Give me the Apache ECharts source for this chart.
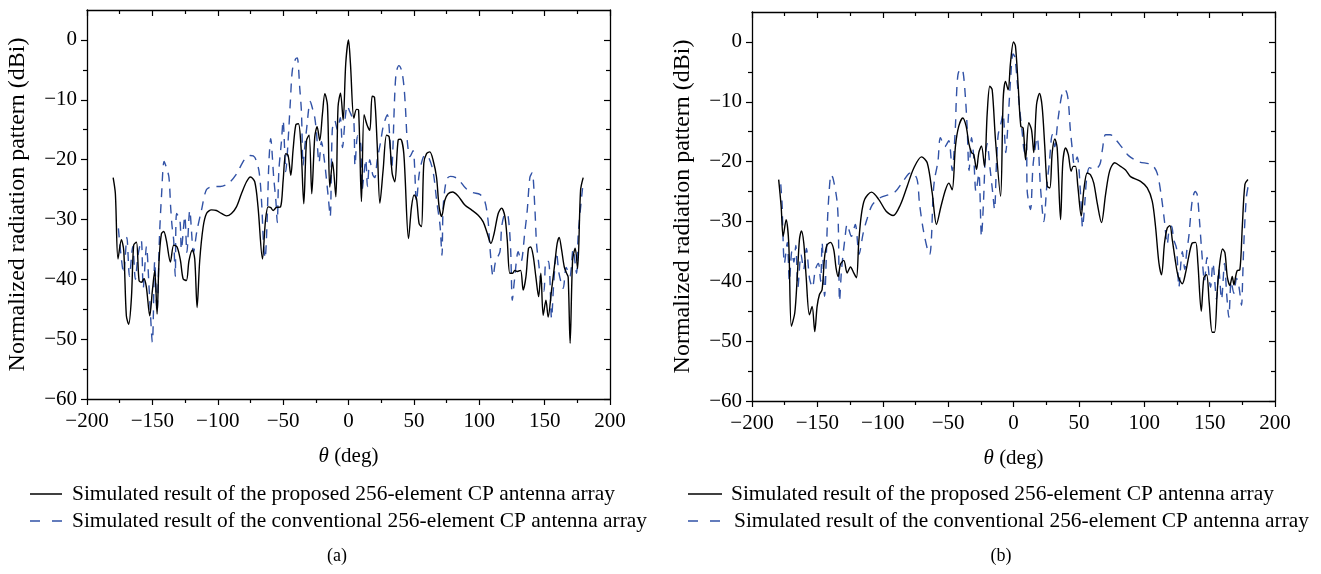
<!DOCTYPE html>
<html><head><meta charset="utf-8">
<script src="https://cdn.jsdelivr.net/npm/echarts@6/dist/echarts.min.js"></script>
<style>html,body{margin:0;padding:0;background:#fff}#c{width:1321px;height:574px}</style>
</head><body><div id="c"></div>
<script>
const seriesNames = ['Simulated result of the proposed 256-element CP antenna array','Simulated result of the conventional 256-element CP antenna array'];
const panelLabels = ['(a)','(b)'];
const xAxisName = '{i|\u03b8} (deg)';
const yAxisName = 'Normalized radiation pattern (dBi)';
const yMajorTicks = [-60,-50,-40,-30,-20,-10,0];
const yMinorTicks = [-55,-45,-35,-25,-15,-5];

const proposedA = [[-180,-23.0],[-178.3,-25.7],[-176.3,-36.6],[-173.7,-33.4],[-171.9,-35.2],[-169.9,-46.1],[-168.1,-47.5],[-166,-43],[-164.3,-34.3],[-162.2,-33.8],[-160.2,-40.2],[-158.4,-40.5],[-156.4,-39.9],[-154.6,-41.3],[-152,-46.1],[-150,-41.9],[-148.2,-38.5],[-146.4,-45.8],[-144.9,-36.9],[-143.1,-32.4],[-141.3,-32.0],[-139.3,-33.5],[-136.2,-37.1],[-133.7,-34.3],[-131.1,-34.6],[-128.5,-36.9],[-126.5,-39.9],[-124,-40.2],[-122,-36.9],[-119.4,-35.1],[-117.6,-36.6],[-115.8,-44.7],[-113.8,-36.9],[-111.2,-31.3],[-108.6,-29.0],[-104.8,-28.4],[-101,-28.5],[-97.2,-29.0],[-93.3,-29.4],[-89.5,-29.0],[-85.7,-27.9],[-81.9,-25.7],[-78,-23.7],[-75,-22.9],[-71.7,-23.7],[-69.2,-27.9],[-65.8,-36.6],[-63.5,-30.2],[-61.5,-27.9],[-59.5,-28.0],[-57.7,-28.5],[-55.1,-28.0],[-52,-27.9],[-50,-23.5],[-48,-19.0],[-46.2,-19.3],[-44.1,-22.6],[-42.4,-18.4],[-40.3,-14.2],[-38.3,-14.0],[-36.3,-17.9],[-34.2,-27.4],[-32.1,-16.8],[-30.1,-15.9],[-28.1,-25.7],[-25.8,-16.2],[-24,-14.5],[-22,-16.8],[-19.9,-12.3],[-18.1,-9.0],[-16.1,-10.9],[-14.3,-24.6],[-12.2,-20.4],[-9.7,-26.2],[-8,-11.2],[-6.1,-8.9],[-4.1,-13.4],[-2.1,-3.9],[0,0],[1.5,-4],[4.1,-13.1],[6.1,-11.6],[7.7,-11.7],[9.9,-27.0],[11.9,-12.5],[14.2,-14.2],[16.3,-15.1],[18.1,-9.4],[19.9,-9.6],[21.9,-17.3],[24,-27.3],[26.5,-21.7],[29.1,-15.9],[31.1,-16.2],[33.4,-22.3],[35.4,-23.7],[38,-16.7],[39.8,-16.6],[42.3,-19.0],[45.9,-33.2],[48.2,-27.9],[50.2,-25.9],[52,-26.5],[54,-30.7],[55.8,-31.2],[57.6,-20.6],[59.7,-19.0],[62.2,-18.7],[64.7,-20.1],[67.3,-22.9],[69.3,-27.9],[71.2,-29.5],[73.7,-26.8],[76.2,-25.7],[79.6,-25.4],[83.9,-26.1],[89,-27.6],[94.1,-28.4],[99.2,-29.3],[103,-30.4],[106.1,-32.3],[108.9,-34.0],[111.4,-32.3],[114.5,-29.0],[117.1,-28.1],[119.6,-29.5],[121.4,-33.4],[123.4,-39.0],[125.5,-39.0],[127.2,-38.5],[129,-38.7],[131.6,-38.5],[133.6,-41.8],[135.7,-39.6],[137.7,-34.8],[139.3,-34.6],[141.2,-36.0],[143.3,-39.6],[145.4,-42.9],[147.1,-39.0],[148.9,-46.0],[151,-43.5],[152.7,-46.3],[155.3,-41.8],[157.8,-37.3],[159.6,-34.0],[161.1,-33.0],[163,-35.1],[165,-37.9],[166.8,-39.0],[168,-39.6],[169.5,-50.7],[171.4,-36.8],[173.4,-34.8],[175.2,-38.2],[177.5,-25.1],[179.5,-23.0]];

const conventionalA = [[-176,-31.5],[-174,-36],[-172,-39],[-169.5,-33],[-167.5,-39.5],[-165,-34.5],[-163,-40],[-161,-36],[-158.5,-33.5],[-157,-41.5],[-154.5,-34.5],[-152.5,-41.5],[-150,-50.5],[-148.2,-37],[-146.5,-45.5],[-144.5,-32.5],[-143,-26],[-141,-20.3],[-139,-21.5],[-137.3,-23],[-136,-28],[-135,-31],[-133.7,-33.5],[-132.5,-39.5],[-131.5,-29],[-129,-30],[-127.8,-35],[-125.2,-29.5],[-123.6,-35.5],[-121.4,-28.5],[-118.5,-35.5],[-116,-32],[-112.5,-28.5],[-108.6,-25],[-103.6,-24.5],[-98,-24.5],[-92,-24],[-86,-22.5],[-79.3,-19.9],[-75,-19.3],[-71.7,-19.6],[-68.4,-22],[-66.5,-27],[-65,-34],[-63.8,-36.5],[-62.2,-30],[-61,-21],[-59.5,-16.5],[-57.2,-23],[-55.5,-27],[-54.5,-30.5],[-53.3,-22],[-51.3,-17],[-50,-13.5],[-48.8,-18.5],[-48,-22],[-46.5,-18],[-44.4,-10],[-42.9,-5],[-40.5,-3.2],[-39.2,-3],[-37.3,-8],[-36,-12],[-34.7,-21],[-33.5,-18],[-32.1,-15],[-29.2,-10.3],[-27.5,-11.5],[-25.8,-13],[-24.5,-15.5],[-22.5,-20.5],[-20.7,-17],[-18.5,-20],[-15.6,-26],[-14,-29.5],[-12.4,-15],[-10.5,-13.5],[-8.5,-15],[-6.3,-13],[-4.6,-18],[-2.5,-13],[-1,-11],[1,-12],[3,-13],[4.2,-14],[5,-21],[7,-16],[9.4,-17.5],[10.5,-25],[12,-22],[13.2,-20],[14.5,-24.5],[16.3,-20],[18.5,-22.5],[20.1,-23],[22,-20],[24.6,-17],[26.5,-14.5],[29.7,-12.5],[31.5,-16],[33,-21.5],[35.4,-9],[36.5,-5.5],[38.5,-4.3],[40.5,-5],[42.3,-7.5],[43.6,-11.5],[45,-17],[47,-19.5],[49.4,-18.5],[52,-27],[54,-22.5],[56.5,-20],[58.4,-19.3],[61,-19.5],[64.7,-22],[67.5,-27],[70,-31],[71.5,-36],[72.4,-28],[75,-23.3],[78,-22.8],[83.6,-23.2],[89.7,-24.8],[95,-25.5],[100.5,-25.8],[104.3,-27],[106.8,-30.3],[108.1,-34.5],[110.6,-39.5],[112.5,-37],[115.8,-35.4],[117.3,-31],[120,-29],[122.1,-29.5],[124,-35],[125.3,-43.5],[127,-40],[129.8,-35.4],[132,-37],[134.9,-32],[136.7,-28.5],[138.7,-23],[140.5,-22.2],[142.5,-28],[143.8,-34],[145.3,-37],[147,-40],[149.4,-42],[151,-37],[153,-37],[155.3,-46.5],[157,-40.5],[159.1,-35.5],[161,-39],[164.2,-41.5],[166.5,-38],[169.3,-39.5],[171.8,-35],[174.4,-39],[175.7,-32.5],[178.9,-25],[180,-23.5]];

const proposedB = [[-179.6,-23],[-177.7,-27.5],[-176.2,-32.5],[-173.9,-29.7],[-171.9,-33.6],[-169.9,-47.5],[-167.3,-45.3],[-165.5,-39.7],[-163.7,-33],[-162.2,-31.6],[-160.4,-33.6],[-158.6,-39.2],[-156.1,-45.6],[-154,-44.2],[-152,-48.4],[-150.2,-44.2],[-148.4,-42.2],[-146.4,-41.4],[-144.4,-35.8],[-142.5,-33.9],[-140,-33.5],[-137.5,-34.7],[-135.7,-37.8],[-134.1,-39.2],[-132.4,-37.2],[-129.8,-36.5],[-127.2,-38.6],[-124.7,-37.6],[-122.2,-38.6],[-120.1,-39.4],[-118.4,-33.6],[-116.5,-29.1],[-113.8,-26.3],[-108.6,-25.1],[-103.1,-26.3],[-97.4,-28.3],[-92,-29],[-86.5,-27.2],[-81.3,-24.1],[-76.3,-21.1],[-70.4,-19.2],[-66,-20.2],[-62.2,-25.2],[-58.9,-30.5],[-55.5,-27.5],[-52,-24.7],[-49.5,-23.6],[-46.9,-24.7],[-44.4,-17.4],[-41.9,-14.1],[-38.8,-12.7],[-36.2,-14.1],[-34.2,-16.9],[-32.1,-18.5],[-30.4,-18.8],[-28.3,-21.3],[-26.5,-18.5],[-24.5,-17.4],[-22.2,-20.8],[-20.1,-11.9],[-18.1,-7.4],[-16.3,-8],[-13.8,-16.3],[-9.9,-25.8],[-7.9,-9.6],[-6.1,-6.6],[-4.1,-8],[-2.3,-3.5],[0,0],[1.5,-0.7],[3.6,-7.4],[5.6,-14.1],[7.4,-14.4],[9.2,-19.7],[11.7,-13.5],[13.8,-14.7],[15.5,-18.5],[17.6,-10.5],[19.9,-8.6],[21.9,-10.8],[23.9,-17.4],[25.8,-24.1],[27.8,-24.4],[29.6,-18.5],[31.6,-16.2],[33.4,-17.7],[36,-29.7],[37.7,-20.2],[39.8,-17.7],[41.9,-18.8],[44.1,-21.6],[45.7,-20.8],[47.4,-20.8],[49.2,-24.1],[51.8,-29.1],[53.8,-24.7],[56.4,-21.9],[58.9,-22.2],[61.4,-23.6],[64,-26.9],[67.3,-30.2],[70.4,-25.5],[73.6,-21.5],[77.4,-20.2],[81.9,-20.8],[85.7,-21.4],[89.5,-22.5],[97.2,-23.3],[102.3,-24.4],[106.1,-26.6],[108.6,-30.8],[111.2,-36.9],[113.2,-38.9],[115.5,-33.6],[117.6,-31.1],[119.6,-30.7],[121.4,-33],[124,-36.9],[126,-39.2],[129.1,-40.4],[131.6,-38.6],[134.1,-35.8],[136.7,-33.6],[139.3,-33.5],[141,-36.9],[143.6,-45],[145.6,-39.4],[147.7,-38.9],[149.7,-43.6],[152,-48.5],[153.8,-48.5],[155.9,-41.4],[157.8,-36.9],[159.9,-34.6],[161.7,-35.2],[163.5,-39.2],[165.5,-40.7],[167.3,-39.2],[168.6,-40.6],[169.9,-39.2],[171.1,-38.2],[173.1,-38.1],[175,-30.8],[177,-23.8],[179.3,-23]];

const conventionalB = [[-178,-23.8],[-177,-27],[-176.5,-31],[-175.2,-37],[-173,-33.5],[-171.4,-40],[-169.5,-35],[-168,-36.8],[-166.5,-34],[-164.9,-41],[-162.5,-35.5],[-160.5,-38],[-158.4,-34.5],[-156,-39.5],[-153.8,-41],[-151.5,-38],[-149.2,-37],[-147.5,-40],[-146.4,-33.5],[-144.5,-42.5],[-142.3,-30],[-141,-25],[-139.5,-22.2],[-138,-22.8],[-135,-26.5],[-134,-30.5],[-133,-43.3],[-131.5,-38],[-129,-33],[-127.2,-30.5],[-124,-32.5],[-121,-30.5],[-118.1,-35.5],[-115,-32],[-111.9,-29.5],[-107.9,-27.2],[-101.7,-26],[-95,-25.5],[-90.3,-25],[-85.2,-23.5],[-80,-22],[-77.5,-21.8],[-73.7,-23],[-71.9,-27],[-68.9,-31.5],[-65.4,-35],[-64,-35.5],[-62.7,-32.5],[-61.6,-26],[-60.4,-23],[-57.8,-20],[-55.9,-16],[-52.5,-17.5],[-49.5,-16.5],[-46.9,-21.5],[-44.4,-14],[-43.8,-10],[-42.5,-5.5],[-40.5,-4.5],[-38.6,-5],[-36.7,-9.5],[-35.4,-14.5],[-34,-21.5],[-32.1,-16],[-30.5,-19],[-28.7,-25],[-26.5,-22],[-24.5,-32.5],[-23,-27],[-21.5,-19],[-20.1,-17],[-18,-21],[-16,-25],[-14.5,-28],[-13,-20],[-11.7,-15.5],[-9.5,-13.5],[-8,-12],[-5.9,-18.5],[-4.6,-15],[-2.3,-6.5],[-0.4,-2],[1,-2.5],[2.8,-6.5],[4.6,-11],[6.6,-15],[8.5,-18.5],[9.9,-17],[10.5,-25],[13,-28],[15,-20.5],[18.1,-16],[20.7,-24.5],[23.2,-30],[25.5,-24],[27.5,-20],[29.6,-15.5],[31.5,-17.5],[34,-13],[37.3,-8.5],[39.5,-8],[41.7,-9.5],[43.4,-14.5],[45,-18],[46.5,-20.5],[48.7,-19.2],[51.6,-26.5],[52.8,-31],[54.5,-27],[55.9,-23],[58.1,-21],[62,-21.3],[66,-20.5],[68,-18],[70.4,-15.5],[74,-15.5],[78,-16.3],[82.5,-17.5],[88,-19],[95.6,-20],[102,-20.3],[106,-20.5],[110,-22],[113.2,-26],[115.5,-30],[117.6,-33.8],[119,-31.5],[120.9,-30.8],[122.5,-33],[124.7,-34.5],[126.5,-41],[128,-37],[129.1,-35],[131,-38],[132.5,-35],[134.1,-32.5],[136.7,-26.5],[139,-25],[140.5,-25.5],[142.3,-30],[143.8,-34.5],[146.1,-40],[148,-36],[150.7,-41],[152.5,-37],[155.3,-43],[157,-38],[159.1,-43],[161.4,-37],[163,-42],[164.7,-46],[166.5,-40],[168.5,-42],[170.6,-39.5],[172.5,-41],[174.4,-44],[175.2,-40],[176.2,-33.5],[178.1,-26],[180,-23.5]];

const FONT = '"Liberation Serif", "DejaVu Serif", serif';
const FS = 21;
const LEG_FS = 21.4;
const BLUE = '#3152a6';
const fmt = v => String(v).replace('-', '\u2212');
const gridBoxes = [{left: 87, top: 10, width: 523, height: 389}, {left: 752, top: 12, width: 523, height: 389}];
const legendIcon = [[30, 62, 72], [688, 722, 731]];
const legendRows = [494, 521];
const labelPos = [[337, 556], [1001, 556]];
const panels = [[proposedA, conventionalA], [proposedB, conventionalB]];

const axisLineStyle = {color: '#000', width: 1.3};
const tickStyle = {color: '#000', width: 1.2};
const grid = [], xAxis = [], yAxis = [], series = [], graphic = [];
gridBoxes.forEach((g, gi) => {
  grid.push(Object.assign({containLabel: false}, g));
  xAxis.push({type: 'value', gridIndex: gi, position: 'bottom', min: -200, max: 200, interval: 50,
    axisLine: {show: true, onZero: false, lineStyle: axisLineStyle},
    axisTick: {show: true, inside: false, length: 6, lineStyle: tickStyle},
    minorTick: {show: true, splitNumber: 2, length: 4, lineStyle: tickStyle},
    axisLabel: {formatter: fmt, color: '#000', fontSize: FS, fontFamily: FONT, margin: 12},
    splitLine: {show: false}, minorSplitLine: {show: false},
    name: xAxisName, nameLocation: 'middle', nameGap: 47,
    nameTextStyle: {color: '#000', fontSize: FS, fontFamily: FONT,
      rich: {i: {fontStyle: 'italic', fontSize: FS, fontFamily: FONT, color: '#000'}}}});
  xAxis.push({type: 'value', gridIndex: gi, position: 'top', min: -200, max: 200, interval: 50,
    axisLine: {show: true, onZero: false, lineStyle: axisLineStyle},
    axisTick: {show: true, inside: true, length: 6, lineStyle: tickStyle},
    minorTick: {show: true, splitNumber: 2, length: 4, lineStyle: tickStyle},
    axisLabel: {show: false}, splitLine: {show: false}});
  yAxis.push({type: 'value', gridIndex: gi, position: 'left', min: -60, max: 5, interval: 10,
    axisLine: {show: true, onZero: false, lineStyle: axisLineStyle},
    axisTick: {show: true, inside: false, length: 6, customValues: yMajorTicks, lineStyle: tickStyle},
    axisLabel: {customValues: yMajorTicks, formatter: fmt, color: '#000', fontSize: FS, fontFamily: FONT, margin: 10},
    splitLine: {show: false},
    name: yAxisName, nameLocation: 'middle', nameGap: 57, nameRotate: 90,
    nameTextStyle: {color: '#000', fontSize: 24, fontFamily: FONT}});
  yAxis.push({type: 'value', gridIndex: gi, position: 'left', min: -60, max: 5, interval: 5,
    axisLine: {show: false, onZero: false},
    axisTick: {show: true, inside: false, length: 4, customValues: yMinorTicks, lineStyle: tickStyle},
    axisLabel: {show: false}, splitLine: {show: false}});
  yAxis.push({type: 'value', gridIndex: gi, position: 'right', min: -60, max: 5, interval: 10,
    axisLine: {show: true, onZero: false, lineStyle: axisLineStyle},
    axisTick: {show: true, inside: true, length: 6, customValues: yMajorTicks, lineStyle: tickStyle},
    axisLabel: {show: false}, splitLine: {show: false}});
  yAxis.push({type: 'value', gridIndex: gi, position: 'right', min: -60, max: 5, interval: 5,
    axisLine: {show: false, onZero: false},
    axisTick: {show: true, inside: true, length: 4, customValues: yMinorTicks, lineStyle: tickStyle},
    axisLabel: {show: false}, splitLine: {show: false}});

  const [prop, conv] = panels[gi];
  series.push({type: 'line', name: seriesNames[0], xAxisIndex: gi * 2, yAxisIndex: gi * 4, data: prop,
    showSymbol: false, symbol: 'none', smooth: 0.3, z: 3,
    lineStyle: {color: '#000', width: 1.4}, itemStyle: {color: '#000'}});
  series.push({type: 'line', name: seriesNames[1], xAxisIndex: gi * 2, yAxisIndex: gi * 4, data: conv,
    showSymbol: false, symbol: 'none', smooth: 0.3, z: 2,
    lineStyle: {color: BLUE, width: 1.4, type: [9, 7]}, itemStyle: {color: BLUE}});

  const [ix0, ix1, tx] = legendIcon[gi];
  graphic.push({type: 'line', shape: {x1: ix0, y1: legendRows[0], x2: ix1, y2: legendRows[0]},
    style: {stroke: '#000', lineWidth: 1.5}});
  graphic.push({type: 'line', shape: {x1: ix0, y1: legendRows[1], x2: ix1, y2: legendRows[1]},
    style: {stroke: BLUE, lineWidth: 1.5, lineDash: [10, 12]}});
  seriesNames.forEach((nm, k) => {
    graphic.push({type: 'text', x: tx + (gi === 1 && k === 1 ? 3 : 0), y: legendRows[k],
      style: {text: nm, font: LEG_FS + 'px ' + FONT, fill: '#000', textVerticalAlign: 'middle'}});
  });
  graphic.push({type: 'text', x: labelPos[gi][0], y: labelPos[gi][1],
    style: {text: panelLabels[gi], font: '18px ' + FONT, fill: '#000', textAlign: 'center', textVerticalAlign: 'middle'}});
});

const chart = echarts.init(document.getElementById('c'), null, {renderer: 'canvas'});
chart.setOption({animation: false, backgroundColor: '#fff', grid, xAxis, yAxis, series, graphic});
</script></body></html>
